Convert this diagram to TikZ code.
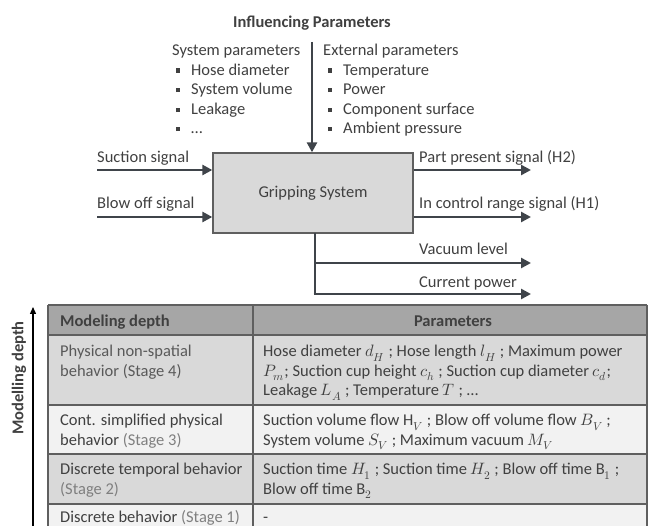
\documentclass[tikz,border=0pt]{standalone}
\usepackage{fontspec}
\usepackage{unicode-math}
\setmainfont{Carlito}
\setmathfont{latinmodern-math.otf}
\usetikzlibrary{arrows.meta}
\definecolor{txt}{HTML}{404040}
\definecolor{stagec}{HTML}{7F7F7F}
\definecolor{lgray}{HTML}{595959}
\definecolor{arrowc}{HTML}{3F444A}
\definecolor{hdrfill}{HTML}{A6A6A6}
\definecolor{darkrow}{HTML}{D9D9D9}
\definecolor{lightrow}{HTML}{F2F2F2}
\definecolor{border}{HTML}{5F5F5F}
\newcommand\bul{\makebox[15.5pt][l]{\rule[2.8pt]{4.6pt}{4.6pt}}}
\newcommand\fnt{\fontsize{16.5}{19.5}\selectfont}
\tikzset{
  txt/.style={anchor=base west, inner sep=0pt, text=txt, font=\fnt},
  ctxt/.style={txt, anchor=base},
  arr/.style={draw=arrowc, line width=2.8pt, -{Triangle[length=10pt,width=10pt]}},
  plainline/.style={draw=arrowc, line width=2.8pt},
  gsbox/.style={draw=border, line width=1.3pt, fill=darkrow, minimum width=200pt, minimum height=80pt, inner sep=0pt, text=txt, font=\fnt},
  tborder/.style={draw=border, line width=1.4pt},
}
\begin{document}
\begin{tikzpicture}[x=1pt,y=-1pt]
\useasboundingbox (0,0) rectangle (648,526);

% ---------- influencing parameters ----------
\node[ctxt, font=\fnt\bfseries] (infl) at (312,27.5) {Influencing Parameters};
\node[txt] (syspar) at (172,56) {System parameters};
\node[txt] (s1) at (175.5,75.5) {\bul Hose diameter};
\node[txt] (s2) at (175.5,95) {\bul System volume};
\node[txt] (s3) at (175.5,115) {\bul Leakage};
\node[txt] (s4) at (175.5,134) {\bul …};
\node[txt] (extpar) at (323,56) {External parameters};
\node[txt] (e1) at (327.5,75.5) {\bul Temperature};
\node[txt] (e2) at (327.5,95) {\bul Power};
\node[txt] (e3) at (327.5,115) {\bul Component surface};
\node[txt] (e4) at (327.5,134) {\bul Ambient pressure};

% ---------- gripping system ----------
\node[gsbox] (gs) at (313,193) {Gripping System};
\coordinate (topin) at (312,42);
\draw[arr] (topin) -- (topin |- gs.north);

\coordinate (suc) at (97,170);
\coordinate (blo) at (97,217);
\draw[arr] (suc) -- (suc -| gs.west);
\draw[arr] (blo) -- (blo -| gs.west);
\node[txt] (suclab) at (97,163) {Suction signal};
\node[txt] (blolab) at (97,208.5) {Blow off signal};

\coordinate (pp) at (531,170);
\coordinate (icr) at (531,217);
\draw[arr] (pp -| gs.east) -- (pp);
\draw[arr] (icr -| gs.east) -- (icr);
\node[txt] (pplab) at (419,163) {Part present signal (H2)};
\node[txt] (icrlab) at (419,208.5) {In control range signal (H1)};

\coordinate (bstart) at (315,233);
\coordinate (vac) at (531,263);
\coordinate (cur) at (531,294);
\draw[plainline] (bstart) -- (bstart |- cur);
\draw[arr] (bstart |- vac) -- (vac);
\draw[arr, line cap=butt] ([xshift=-1.4pt]bstart |- cur) -- (cur);
\node[txt] (vaclab) at (419,254.5) {Vacuum level};
\node[txt] (curlab) at (419,287.5) {Current power};

% ---------- table ----------
\fill[hdrfill] (48,305) rectangle (647,335);
\fill[darkrow] (48,335) rectangle (647,405);
\fill[lightrow] (48,405) rectangle (647,454);
\fill[darkrow] (48,454) rectangle (647,504);
\fill[lightrow] (48,504) rectangle (647,540);
\draw[tborder] (48,305) -- (647,305);
\draw[tborder] (48,335) -- (647,335);
\draw[tborder] (48,405) -- (647,405);
\draw[tborder] (48,454) -- (647,454);
\draw[tborder] (48,504) -- (647,504);
\draw[tborder] (48,305) -- (48,540);
\draw[tborder] (253,305) -- (253,540);
\draw[tborder] (647,305) -- (647,540);

\node[txt, font=\fnt\bfseries] (h1) at (60,326.5) {Modeling depth};
\node[ctxt, font=\fnt\bfseries] (h2) at (453,326.5) {Parameters};

\node[txt, text=lgray] (l1a) at (60,357) {Physical non-spatial};
\node[txt, text=lgray] (l1b) at (60,376.5) {behavior (Stage 4)};
\node[txt] (r1a) at (263,357) {Hose diameter $d_H$ ; Hose length $l_H$ ; Maximum power};
\node[txt] (r1b) at (263,376.5) {$P_m$; Suction cup height $c_h$ ; Suction cup diameter $c_d$;};
\node[txt] (r1c) at (263,396) {Leakage $L_A$ ; Temperature $T$ ; …};

\node[txt] (l2a) at (60,426) {Cont. simplified physical};
\node[txt] (l2b) at (60,445.5) {behavior {\color{stagec}(Stage 3)}};
\node[txt] (r2a) at (263,426) {Suction volume flow $\mathrm{H}_V$ ; Blow off volume flow $B_V$ ;};
\node[txt] (r2b) at (263,445.5) {System volume $S_V$ ; Maximum vacuum $M_V$};

\node[txt] (l3a) at (60,475) {Discrete temporal behavior};
\node[txt, text=stagec] (l3b) at (60,494.5) {(Stage 2)};
\node[txt] (r3a) at (263,475) {Suction time $H_1$ ; Suction time $H_2$ ; Blow off time $\mathrm{B}_1$ ;};
\node[txt] (r3b) at (263,494.5) {Blow off time $\mathrm{B}_2$};

\node[txt] (l4a) at (60,522) {Discrete behavior {\color{stagec}(Stage 1)}};
\node[txt] (r4a) at (263,522) {-};

% ---------- modelling depth axis ----------
\coordinate (axbot) at (33,530);
\coordinate (axtop) at (33,307);
\draw[line width=1.3pt, -{Triangle[length=7pt,width=6pt]}] (axbot) -- (axtop);
\node[rotate=90, inner sep=0pt, text=txt, font=\fnt\bfseries] (axlab) at (19,378) {Modelling depth};
\end{tikzpicture}
\end{document}
